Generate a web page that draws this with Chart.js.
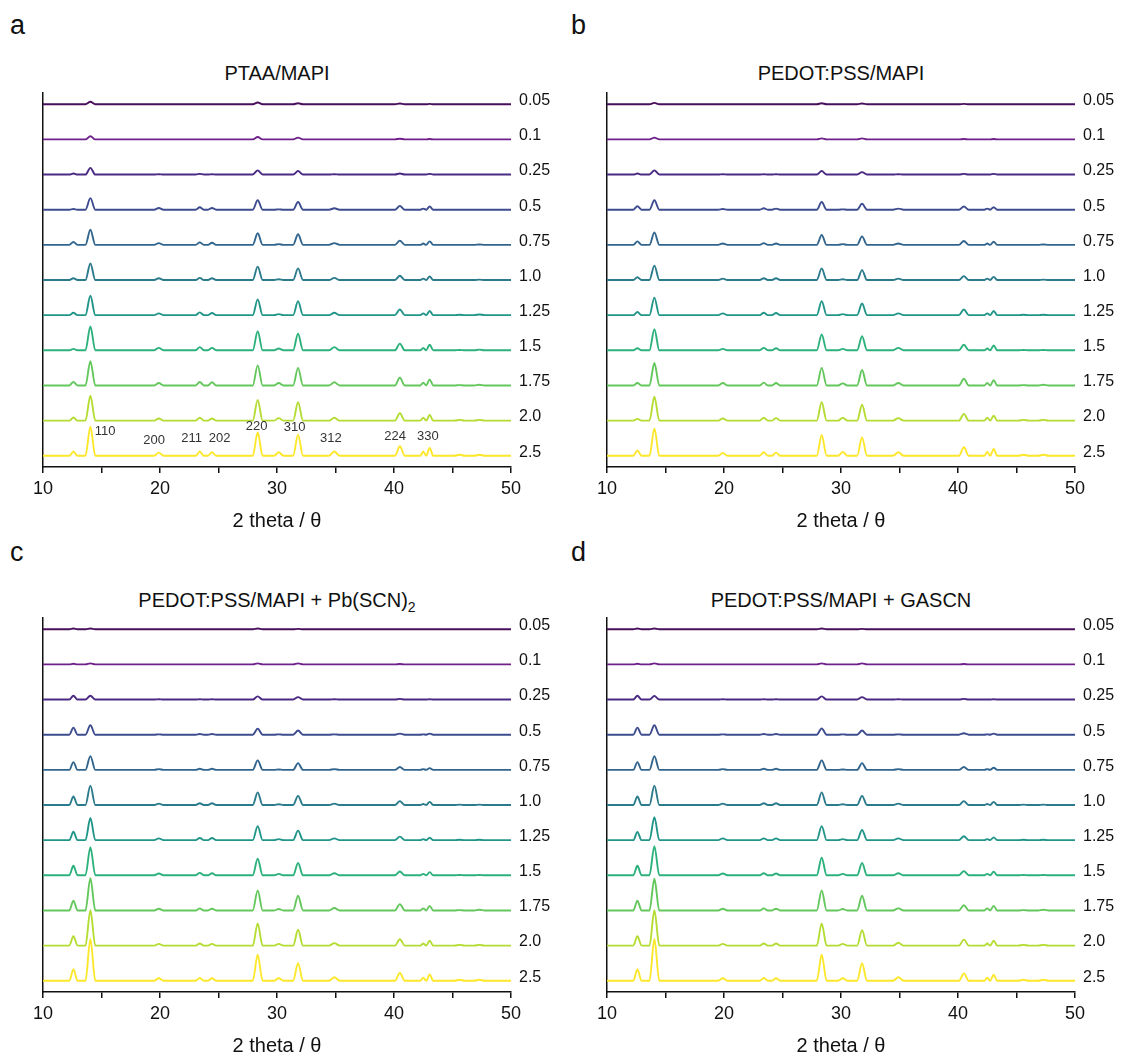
<!DOCTYPE html>
<html><head><meta charset="utf-8">
<script src="https://cdn.jsdelivr.net/npm/chart.js@4.4.0/dist/chart.umd.min.js"></script>
<style>
html,body{margin:0;padding:0;background:#fff;overflow:hidden;}
body{width:1122px;height:1059px;position:relative;font-family:"Liberation Sans",Arial,sans-serif;color:#111;}
.panel{position:absolute;width:560px;height:468px;}
.letter{position:absolute;font-size:27px;line-height:27px;}
.title{position:absolute;font-size:20px;line-height:20px;width:468px;text-align:center;white-space:nowrap;}
.title sub{font-size:14px;vertical-align:-5px;line-height:0;}
</style></head><body>

<div class="letter" style="left:10px;top:12px;">a</div>
<div class="letter" style="left:571px;top:12px;">b</div>
<div class="letter" style="left:10px;top:539px;">c</div>
<div class="letter" style="left:571px;top:539px;">d</div>

<div class="title" style="left:43px;top:63px;">PTAA/MAPI</div>
<div class="title" style="left:607px;top:63px;">PEDOT:PSS/MAPI</div>
<div class="title" style="left:43px;top:590px;">PEDOT:PSS/MAPI + Pb(SCN)<sub>2</sub></div>
<div class="title" style="left:607px;top:590px;">PEDOT:PSS/MAPI + GASCN</div>

<div class="panel" style="left:0px;top:77px;"><canvas id="cA" width="560" height="468"></canvas></div>
<div class="panel" style="left:564px;top:77px;"><canvas id="cB" width="560" height="468"></canvas></div>
<div class="panel" style="left:0px;top:602px;"><canvas id="cC" width="560" height="468"></canvas></div>
<div class="panel" style="left:564px;top:602px;"><canvas id="cD" width="560" height="468"></canvas></div>

<script>
// ---- data ----
const concentrations = ['0.05', '0.1', '0.25', '0.5', '0.75', '1.0', '1.25', '1.5', '1.75', '2.0', '2.5'];
const traceColors = ['#4a0f5c', '#70208a', '#4b2a84', '#3d4b8f', '#32658d', '#2b7b8c', '#229589', '#2db17c', '#63c75c', '#b4dc32', '#fde72a'];
// peak positions (2 theta) and half base widths (degrees)
const peakPositions = [12.6, 14.05, 19.9, 23.4, 24.45, 28.35, 30.15, 31.8, 34.9, 40.5, 42.5, 43.05, 45.6, 47.3];
const peakWidths    = [0.35, 0.42,  0.4,  0.35, 0.35,  0.42,  0.4,   0.42, 0.45, 0.42, 0.25, 0.3,   0.45, 0.45];

// peak heights above each baseline (units of trace spacing), rows follow concentrations
const heightsPTAA = [
  [0, .07, 0, 0, 0, .05, 0, .03, 0, .02, 0, .01, 0, 0],
  [0, .09, 0, 0, 0, .07, 0, .05, 0, .02, 0, .01, 0, 0],
  [.03, .19, .01, .02, .01, .12, 0, .10, .01, .03, 0, .02, 0, 0],
  [.02, .33, .05, .07, .05, .27, .01, .22, .04, .11, .03, .09, 0, 0],
  [.08, .43, .05, .07, .06, .33, .02, .30, .05, .12, .04, .10, 0, .01],
  [.05, .47, .05, .06, .05, .38, .02, .33, .06, .12, .04, .10, 0, .01],
  [.07, .55, .05, .08, .06, .45, .03, .40, .07, .16, .05, .12, .01, .02],
  [.04, .68, .07, .09, .07, .54, .05, .47, .09, .19, .07, .16, .01, .02],
  [.10, .69, .07, .10, .09, .57, .07, .50, .09, .22, .08, .17, .01, .02],
  [.09, .71, .06, .08, .06, .59, .07, .52, .08, .21, .08, .16, .02, .02],
  [.12, .83, .09, .12, .10, .66, .10, .60, .12, .27, .12, .22, .03, .03]
];
const heightsPEDOT = [
  [0, .04, 0, 0, 0, .03, 0, .02, 0, .01, 0, 0, 0, 0],
  [0, .05, 0, 0, 0, .03, 0, .03, 0, .01, 0, .01, 0, 0],
  [.03, .12, .01, .01, .01, .10, 0, .07, .01, .02, 0, .02, 0, 0],
  [.10, .27, .02, .04, .03, .22, .01, .17, .03, .09, .03, .07, 0, 0],
  [.10, .35, .04, .05, .04, .28, .02, .24, .04, .11, .04, .09, 0, .01],
  [.08, .41, .04, .05, .05, .33, .02, .28, .04, .11, .04, .09, 0, .01],
  [.09, .50, .05, .07, .06, .40, .03, .33, .05, .16, .05, .12, .01, .01],
  [.06, .60, .04, .07, .06, .45, .04, .40, .07, .16, .05, .14, .01, .01],
  [.07, .64, .07, .08, .07, .50, .06, .44, .07, .19, .07, .15, .01, .02],
  [.05, .68, .06, .08, .07, .52, .08, .45, .07, .19, .08, .14, .02, .02],
  [.15, .78, .08, .10, .09, .59, .11, .52, .10, .24, .11, .19, .03, .03]
];
const heightsPbSCN = [
  [.02, .02, 0, 0, 0, .02, 0, .01, 0, 0, 0, 0, 0, 0],
  [.02, .03, 0, 0, 0, .03, 0, .03, 0, .01, 0, 0, 0, 0],
  [.11, .11, .01, .01, .01, .09, 0, .07, .01, .02, 0, .01, 0, 0],
  [.20, .27, .01, .02, .02, .17, .01, .12, .01, .03, .01, .03, 0, 0],
  [.22, .39, .02, .03, .03, .27, .01, .19, .02, .08, .02, .05, 0, 0],
  [.24, .55, .04, .05, .05, .36, .02, .26, .04, .11, .03, .09, .01, .01],
  [.24, .63, .05, .06, .06, .40, .03, .27, .05, .10, .03, .07, .01, .01],
  [.27, .80, .05, .07, .06, .47, .04, .35, .06, .11, .04, .09, .01, .01],
  [.28, .92, .05, .06, .05, .57, .04, .42, .07, .18, .06, .13, .01, .02],
  [.27, 1.01, .05, .06, .05, .63, .05, .45, .07, .18, .06, .14, .02, .02],
  [.33, 1.19, .07, .08, .07, .74, .07, .50, .10, .22, .09, .18, .03, .03]
];
const heightsGASCN = [
  [.02, .02, 0, 0, 0, .02, 0, .01, 0, 0, 0, 0, 0, 0],
  [.02, .03, 0, 0, 0, .03, 0, .03, 0, .01, 0, 0, 0, 0],
  [.11, .10, .01, .01, .01, .09, 0, .07, .01, .02, 0, .01, 0, 0],
  [.20, .27, .01, .02, .02, .18, .01, .12, .01, .04, .01, .03, 0, 0],
  [.22, .39, .02, .03, .03, .27, .01, .19, .02, .08, .02, .06, 0, 0],
  [.24, .55, .04, .05, .05, .36, .02, .26, .04, .11, .03, .09, .01, .01],
  [.23, .65, .05, .05, .05, .40, .03, .29, .05, .11, .03, .08, .01, .01],
  [.27, .83, .05, .06, .05, .50, .04, .35, .06, .12, .04, .10, .01, .01],
  [.28, .90, .05, .06, .05, .57, .04, .42, .06, .15, .06, .13, .01, .02],
  [.27, 1.01, .05, .06, .06, .63, .05, .44, .08, .17, .06, .14, .02, .02],
  [.33, 1.19, .07, .08, .07, .74, .07, .50, .10, .21, .09, .17, .03, .03]
];

// Miller index notes on the 2.5 trace of panel a (2 theta, height above baseline)
const noteTexts = ['110', '200', '211', '202', '220', '310', '312', '224', '330'];
const noteX     = [15.3, 19.5, 22.7, 25.1, 28.25, 31.5, 34.6, 40.1, 42.9];
const noteY     = [0.69, 0.45, 0.5, 0.5, 0.83, 0.81, 0.5, 0.55, 0.55];

const xTicks = [10, 20, 30, 40, 50];

// ---- chart construction ----
const FONT = '"Liberation Sans", Arial, sans-serif';
Chart.defaults.font.family = FONT;
Chart.defaults.color = '#111';
const N = concentrations.length;
const Y_MIN = -0.32, Y_MAX = N - 1 + 0.32;
const LABEL_LIFT = 0.1;

function buildDatasets(heights) {
  return concentrations.map((label, i) => {
    const base = N - 1 - i;
    const pts = [{x: 10, y: base}];
    peakPositions.forEach((p, j) => {
      const h = heights[i][j];
      if (h > 0) {
        pts.push({x: p - peakWidths[j], y: base});
        pts.push({x: p, y: base + h});
        pts.push({x: p + peakWidths[j], y: base});
      }
    });
    pts.push({x: 50, y: base});
    return {label, data: pts, borderColor: traceColors[i], borderWidth: 1.9,
            pointRadius: 0, cubicInterpolationMode: 'monotone', fill: false};
  });
}

const notesPlugin = {
  id: 'peakNotes',
  afterDatasetsDraw(chart, args, opts) {
    if (!opts || !opts.texts) return;
    const {ctx, scales} = chart;
    ctx.save();
    ctx.font = '13px ' + FONT;
    ctx.fillStyle = '#333';
    ctx.textAlign = 'center';
    ctx.textBaseline = 'middle';
    opts.texts.forEach((t, i) => {
      ctx.fillText(t, scales.x.getPixelForValue(opts.xs[i]), scales.y.getPixelForValue(opts.ys[i]));
    });
    ctx.restore();
  }
};

function makeChart(id, heights, notes) {
  return new Chart(document.getElementById(id), {
    type: 'line',
    data: {datasets: buildDatasets(heights)},
    plugins: [notesPlugin],
    options: {
      responsive: false,
      animation: false,
      layout: {padding: {left: 43, top: 16, right: 0, bottom: 0}},
      plugins: {
        legend: {display: false},
        tooltip: {enabled: false},
        peakNotes: notes || {}
      },
      scales: {
        x: {
          type: 'linear', position: 'bottom', min: 10, max: 50,
          ticks: {stepSize: 5, padding: 5, autoSkip: false, maxRotation: 0, color: '#111',
                  font: {size: 18},
                  callback: v => xTicks.includes(v) ? String(v) : ''},
          grid: {drawOnChartArea: false, drawTicks: true, tickLength: 6, color: '#111', lineWidth: 1.5},
          border: {display: true, color: '#111', width: 1.5},
          title: {display: true, text: '2 theta / \u03b8', color: '#111', font: {size: 20},
                  padding: {top: 0, bottom: 12}},
          afterFit: s => { s.height = 78; }
        },
        y: {
          type: 'linear', position: 'left', min: Y_MIN, max: Y_MAX,
          ticks: {display: false},
          grid: {display: false, drawTicks: false},
          border: {display: true, color: '#111', width: 1.5},
          afterFit: s => { s.width = 0; }
        },
        yr: {
          type: 'linear', position: 'right', min: Y_MIN, max: Y_MAX,
          afterBuildTicks: s => { s.ticks = concentrations.map((c, k) => ({value: k + LABEL_LIFT})); },
          ticks: {autoSkip: false, padding: 8, color: '#111', font: {size: 16, lineHeight: 1},
                  callback: (v, idx) => concentrations[N - 1 - idx]},
          grid: {display: false, drawTicks: false},
          border: {display: false},
          afterFit: s => { s.width = 49; }
        }
      }
    }
  });
}

makeChart('cA', heightsPTAA, {texts: noteTexts, xs: noteX, ys: noteY});
makeChart('cB', heightsPEDOT);
makeChart('cC', heightsPbSCN);
makeChart('cD', heightsGASCN);
</script>
</body></html>
